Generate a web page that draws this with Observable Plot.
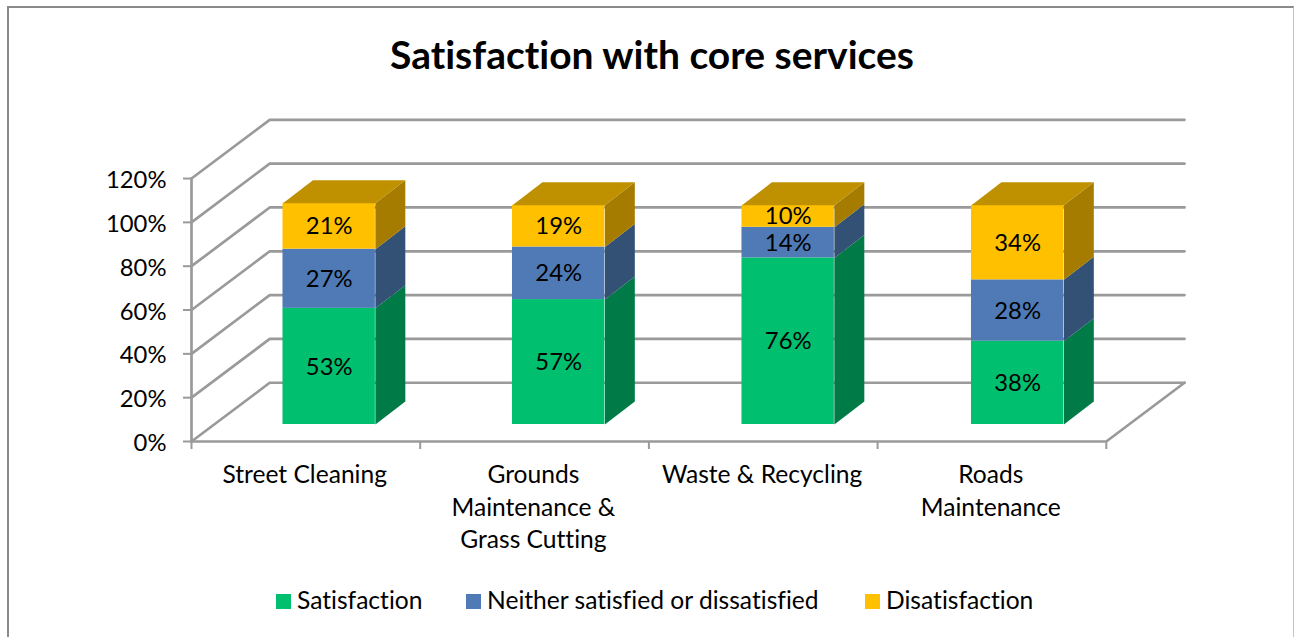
<!DOCTYPE html>
<html>
<head>
<meta charset="utf-8">
<script src="https://cdn.jsdelivr.net/npm/d3@7"></script>
<script src="https://cdn.jsdelivr.net/npm/@observablehq/plot@0.6"></script>
<style>
html,body{margin:0;padding:0;background:#fff;overflow:hidden;width:1296px;height:637px;font-family:Lato,sans-serif;color:#000;font-variant-ligatures:none}
#frame{position:absolute;left:7px;top:6px;width:1287px;height:660px;border-left:2px solid #8a8a8a;border-top:2px solid #8a8a8a;border-right:1px solid #c4c4c4;box-sizing:border-box}
#title{position:absolute;left:0;width:1304px;top:29px;text-align:center;font-size:39px;font-weight:700;line-height:50px;font-family:Lato,sans-serif}
#chart{position:absolute;left:0;top:100px}
#legend{position:absolute;top:584px;left:0;width:1296px;height:32px;font-size:24.6px;line-height:32px}
#legend span{position:absolute;white-space:nowrap}
#legend i{position:absolute;top:10px;width:15px;height:15px;display:block}
svg text{font-family:Lato,sans-serif;font-variant-ligatures:none}
</style>
</head>
<body>
<div id="frame"></div>
<div id="title">Satisfaction with core services</div>
<div id="chart"></div>
<div id="legend"></div>
<script>
const categories = ["Street Cleaning", "Grounds\nMaintenance &\nGrass Cutting", "Waste & Recycling", "Roads\nMaintenance"];
const satisfaction = [53, 57, 76, 38];
const neither = [27, 24, 14, 28];
const disatisfaction = [21, 19, 10, 34];
const yTicks = [0, 20, 40, 60, 80, 100, 120];
const xTicks = [0, 1, 2, 3, 4];
const seriesNames = ["Satisfaction", "Neither satisfied or dissatisfied", "Disatisfaction"];

// Look of the 3D chart, in scale units
const wallDx = 0.342, wallDy = 26.8;    // depth of the floor
const barDx = 0.131, barDy = 10.5;      // depth of a bar
const barBase = 7.76, barLeft = 0.4, barWidth = 0.404, barStep = 1.0035;
const labelY = -8.4;

const grid = "#9a9a9a";
const looks = [
  {front: "#00c070", side: "#007a47", top: "#00a05e"},
  {front: "#4f7ab6", side: "#325174", top: "#3f6391"},
  {front: "#ffc000", side: "#a67c00", top: "#bf9000"}
];
const seriesValues = [satisfaction, neither, disatisfaction];

// Stack the series
const segments = [];
categories.forEach((c, i) => {
  let acc = 0;
  seriesValues.forEach((vals, s) => {
    const x0 = i * barStep + barLeft;
    segments.push({i, s, value: vals[i], x0, x1: x0 + barWidth,
      y0: barBase + acc, y1: barBase + acc + vals[i]});
    acc += vals[i];
  });
});
const tops = categories.map((c, i) => segments.filter(d => d.i === i).at(-1));

const poly = (id, pts) => pts.map(([x, y]) => ({id, x, y}));
const sideFace = d => poly(`${d.i}-${d.s}`, [[d.x1, d.y0], [d.x1 + barDx, d.y0 + barDy], [d.x1 + barDx, d.y1 + barDy], [d.x1, d.y1], [d.x1, d.y0]]);
const topFace = d => poly(`t${d.i}`, [[d.x0, d.y1], [d.x1, d.y1], [d.x1 + barDx, d.y1 + barDy], [d.x0 + barDx, d.y1 + barDy], [d.x0, d.y1]]);

// Walls: each tick runs up the left wall, then along the back wall
const gridLines = yTicks.flatMap(t => poly(`g${t}`, [[0, t], [wallDx, t + wallDy], [4 + wallDx, t + wallDy]]));
const axisLines = [
  ...poly("left", [[0, 0], [0, 120]]),
  ...poly("front", [[0, 0], [4, 0], [4 + wallDx, wallDy]])
];

const marks = [
  Plot.line(gridLines, {x: "x", y: "y", z: "id", stroke: grid, strokeWidth: 2.7, strokeLinejoin: "miter"}),
  Plot.line(axisLines, {x: "x", y: "y", z: "id", stroke: grid, strokeWidth: 2.7}),
  Plot.axisY({ticks: yTicks, tickFormat: () => "", tickSize: 8, stroke: grid, strokeWidth: 2, label: null}),
  Plot.text(yTicks, {x: () => 0, y: d => d, text: d => d + "%", dx: -25, dy: 2, textAnchor: "end", fontSize: 23.8, fill: "#000"}),
  Plot.axisX({ticks: xTicks, tickFormat: () => "", tickSize: 8, stroke: grid, strokeWidth: 2, label: null})
];
looks.forEach((look, s) => {
  const segs = segments.filter(d => d.s === s);
  marks.push(Plot.line(segs.flatMap(sideFace), {x: "x", y: "y", z: "id", fill: look.side, stroke: "none"}));
  marks.push(Plot.rect(segs, {x1: "x0", x2: "x1", y1: "y0", y2: "y1", fill: look.front, inset: 0}));
});
marks.push(Plot.line(tops.flatMap(topFace), {x: "x", y: "y", z: "id", fill: looks[2].top, stroke: "none"}));
marks.push(Plot.text(segments, {x: d => (d.x0 + d.x1) / 2, y: d => (d.y0 + d.y1) / 2, text: d => d.value + "%", dy: 0.5, fontSize: 23.8, fill: "#000"}));
marks.push(Plot.text(categories, {x: (d, i) => i + 0.495, y: () => labelY, text: d => d, fontSize: 24.6, lineHeight: 1.325, lineAnchor: "top", textAnchor: "middle", fill: "#000"}));

const chart = Plot.plot({
  width: 1296,
  height: 480,
  marginLeft: 191,
  marginRight: 112,
  marginTop: 19.3,
  marginBottom: 139,
  x: {type: "linear", domain: [0, 4 + wallDx], axis: null},
  y: {type: "linear", domain: [0, 120 + wallDy], axis: null},
  marks
});
chart.style.background = "transparent";
document.getElementById("chart").appendChild(chart);

const legend = document.getElementById("legend");
const swatchAt = [276, 466, 865];
seriesNames.forEach((name, s) => {
  const sw = document.createElement("i");
  sw.style.left = swatchAt[s] + "px";
  sw.style.background = looks[s].front;
  legend.appendChild(sw);
  const t = document.createElement("span");
  t.style.left = (swatchAt[s] + 21) + "px";
  t.textContent = name;
  legend.appendChild(t);
});
</script>
</body>
</html>
